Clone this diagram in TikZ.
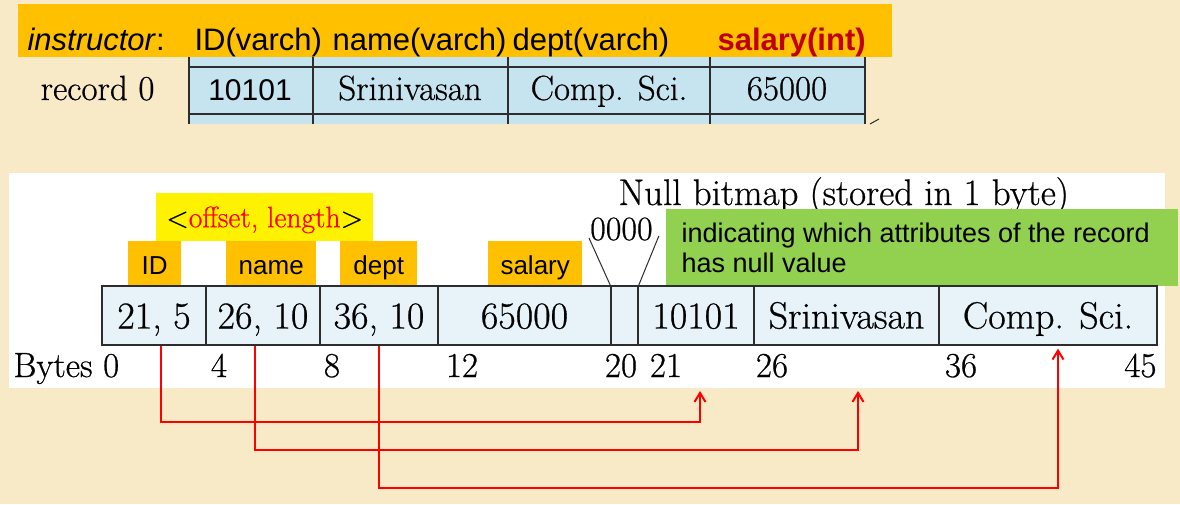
\documentclass[tikz,border=0pt]{standalone}
\usepackage{fontspec}
\usetikzlibrary{arrows.meta}
\newfontfamily\tahoma{Liberation Sans}
\newfontfamily\pala{Latin Modern Roman}[FakeBold=0.6]
\definecolor{parch}{RGB}{248,234,198}
\definecolor{tagorange}{RGB}{255,192,0}
\definecolor{tabblue}{RGB}{197,228,240}
\definecolor{recblue}{RGB}{231,243,249}
\definecolor{notegreen}{RGB}{146,208,80}
\definecolor{darkred}{RGB}{192,0,0}
\definecolor{rulegray}{RGB}{45,45,45}
\newcommand{\serifsz}[1]{\pala\fontsize{#1}{#1}\selectfont}
\newcommand{\sanssz}[1]{\tahoma\fontsize{#1}{#1}\selectfont}
\begin{document}
\begin{tikzpicture}[x=1pt,y=-1pt,
		tag/.style={fill=tagorange,inner sep=0pt,anchor=north west,text height=21pt,text depth=0pt,minimum height=45pt,font=\sanssz{26}},
		cell/.style={draw=rulegray,line width=1.3pt,fill=recblue,inner sep=0pt,minimum height=59pt,text height=26pt,text depth=0pt,font=\serifsz{38}},
		grid/.style={draw=rulegray,line width=1.3pt},
		byte/.style={anchor=base,font=\serifsz{35}},
		link/.style={red,line width=2pt,-{Straight Barb[length=9pt,width=11pt,line width=2pt]}}]
	\fill[parch] (0,0) rectangle (1180,504);
	\node[fill=tagorange,inner sep=0pt,minimum width=874pt,minimum height=53pt,anchor=north west] (banner) at (18,4) {};
	\node[anchor=base west,font=\sanssz{31}] (hinst) at (24,50) {\textit{instructor}:};
	\node[anchor=base west,font=\sanssz{31}] (hid) at (191,50) {ID(varch)};
	\node[anchor=base west,font=\sanssz{31}] (hname) at (329,50) {name(varch)};
	\node[anchor=base west,font=\sanssz{31}] (hdept) at (509,50) {dept(varch)};
	\node[anchor=base west,font=\sanssz{31},text=darkred] (hsal) at (714,50) {\textbf{salary(int)}};
	\fill[tabblue] (189,57) rectangle (865,124);
	\foreach \y in {67,114} \draw[grid] (189,\y) -- (865,\y);
	\foreach \x in {189,313,508,710,865} \draw[grid] (\x,57) -- (\x,124);
	\draw[rulegray,line width=1pt] (870,124) -- (879,119);
	\node[anchor=base east,font=\serifsz{35}] (rec0) at (158,100) {record 0};
	\node[anchor=base,font=\sanssz{30}] (r0id) at (250,100) {10101};
	\node[anchor=base,font=\serifsz{35}] (r0name) at (410,100) {Srinivasan};
	\node[anchor=base,font=\serifsz{35}] (r0dept) at (609,100) {Comp. Sci.};
	\node[anchor=base,font=\serifsz{35}] (r0sal) at (787,100) {65000};
	\fill[white] (9,173) rectangle (1165,388);
	\node[anchor=base west,font=\serifsz{37}] (nullbm) at (615,205) {Null bitmap (stored in 1 byte)};
	\node[fill=yellow,anchor=north west,minimum width=217pt,minimum height=48pt,inner sep=0pt,text height=20pt,text depth=0pt,text=red,font=\serifsz{29.5}] (offlen) at (156,193) {\textcolor{black}{\textless}offset, length\textcolor{black}{\textgreater}};
	\node[tag,minimum width=53pt] (tid) at (128,241) {ID};
	\node[tag,minimum width=90pt] (tname) at (226,241) {name};
	\node[tag,minimum width=77pt] (tdept) at (340,241) {dept};
	\node[tag,minimum width=94pt] (tsal) at (488,241) {salary};
	\node[fill=notegreen,anchor=north west,minimum width=512pt,minimum height=77pt,inner sep=0pt] (note) at (666,209) {};
	\node[anchor=base west,font=\sanssz{27}] (note1) at (678,242) {indicating which attributes of the record};
	\node[anchor=base west,font=\sanssz{27}] (note2) at (678,272) {has null value};
	\foreach \l/\r/\t/\n in {102/206/{21, 5}/c1,206/320/{26, 10}/c2,320/438/{36, 10}/c3,438/611/65000/c4,611/638/{}/c5,638/754/10101/c6,754/939/Srinivasan/c7,939/1157/{Comp. Sci.}/c8}
		\node[cell,minimum width={(\r-\l)*1pt}] (\n) at ({(\l+\r)/2},315.5) {\t};
	\node[anchor=base west,inner sep=0pt,font=\serifsz{34}] (zeros) at (590,240) {0000};
	\draw[grid,line width=1pt] ([xshift=-1pt,yshift=2pt]zeros.base west) -- (c5.north west);
	\draw[grid,line width=1pt] ([xshift=6pt,yshift=4pt]zeros.base east) -- (c5.north east);
	\node[byte,anchor=base west] (b0) at (10,377) {Bytes 0};
	\foreach \x/\t/\n in {219/4/b4,332/8/b8,462/12/b12,621/20/b20,666/21/b21,772/26/b26,961/36/b36}
		\node[byte] (\n) at (\x,377) {\t};
	\node[byte,anchor=base east] (b45) at (1160,377) {45};
	\coordinate (t1) at (700,391);
	\coordinate (t2) at (858,391);
	\coordinate (t3) at ([xshift=10pt,yshift=-3pt]c8.south);
	\draw[link] ([xshift=7pt]c1.south) -- ++(0,76) -| (t1);
	\draw[link] ([xshift=-8pt]c2.south) -- ++(0,104) -| (t2);
	\draw[link] (c3.south) -- ++(0,142) -| (t3);
\end{tikzpicture}
\end{document}
